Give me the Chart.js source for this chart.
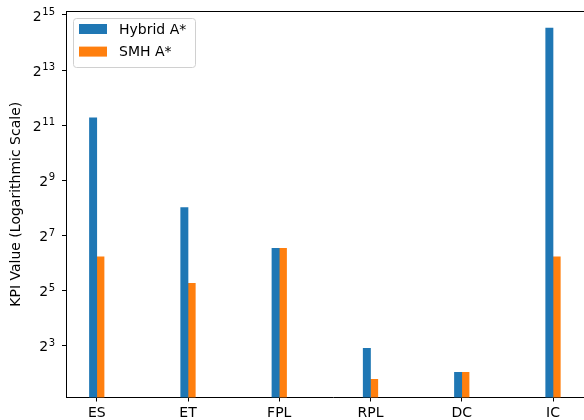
<!DOCTYPE html>
<html lang="en">
<head>
  <meta charset="UTF-8">
  <title>KPI comparison</title>
  <script src="https://cdn.jsdelivr.net/npm/chart.js"></script>
  <style>
    html, body { margin: 0; padding: 0; background: #fff; overflow: hidden; }
    /* la figure d'origine est coupée à droite : on déborde un peu */
    #wrap { width: 600px; height: 420px; position: relative; }
  </style>
</head>
<body>
  <div id="wrap"><canvas id="kpiChart"></canvas></div>

  <script>
    // Données
    const categories = ['ES', 'ET', 'FPL', 'RPL', 'DC', 'IC'];
    const seriesNames = ['Hybrid A*', 'SMH A*'];
    const hybridValues = [2470, 258, 92.6, 7.5, 4.1, 23650];
    const smhValues = [75, 38.4, 92.6, 3.44, 4.1, 75];
    const yTickExponents = [3, 5, 7, 9, 11, 13, 15];

    const font = 'DejaVu Sans';

    // Bord supérieur, étiquettes 2^n et légende style matplotlib
    const framePlugin = {
      id: 'frame',
      afterDraw(chart) {
        const { ctx, chartArea: a } = chart;
        const y = chart.scales.y;
        ctx.save();
        ctx.strokeStyle = '#000';
        ctx.lineWidth = 1;
        ctx.beginPath();
        ctx.moveTo(a.left, a.top + 0.5);
        ctx.lineTo(chart.width, a.top + 0.5);
        ctx.stroke();

        // Étiquettes de l'axe y : base 2 + exposant
        ctx.fillStyle = '#000';
        ctx.textBaseline = 'middle';
        ctx.textAlign = 'right';
        yTickExponents.forEach(e => {
          const py = y.getPixelForValue(Math.pow(2, e));
          const right = a.left - 11;
          ctx.font = '10px "' + font + '"';
          const expText = String(e);
          const ew = ctx.measureText(expText).width;
          ctx.fillText(expText, right, py - 2.5);
          ctx.font = '14px "' + font + '"';
          ctx.fillText('2', right - ew - 0.5, py + 2);
        });

        // Légende
        ctx.textAlign = 'left';
        const lx = a.left + 7, ly = a.top + 7, lw = 122, lh = 49;
        ctx.fillStyle = 'rgba(255,255,255,0.8)';
        ctx.strokeStyle = '#d0d0d0';
        ctx.beginPath();
        ctx.roundRect(lx + 0.5, ly + 0.5, lw, lh, 3);
        ctx.fill();
        ctx.stroke();
        const colors = chart.data.datasets.map(d => d.backgroundColor);
        ctx.font = '14px "' + font + '"';
        seriesNames.forEach((name, i) => {
          const cy = ly + 11 + i * 22.6;
          ctx.fillStyle = colors[i];
          ctx.fillRect(lx + 6, cy - 5, 28, 10);
          ctx.fillStyle = '#000';
          ctx.fillText(name, lx + 46, cy + 1);
        });
        ctx.restore();
      }
    };

    const ctx = document.getElementById('kpiChart').getContext('2d');
    const chart = new Chart(ctx, {
      type: 'bar',
      data: {
        datasets: [
          {
            label: seriesNames[0],
            data: hybridValues.map((v, i) => ({ x: i, y: v })),
            backgroundColor: '#1f77b4'
          },
          {
            label: seriesNames[1],
            data: smhValues.map((v, i) => ({ x: i, y: v })),
            backgroundColor: '#ff7f0e'
          }
        ]
      },
      options: {
        responsive: true,
        maintainAspectRatio: false,
        animation: false,
        barThickness: 7.3,
        layout: { padding: { top: 11, right: 0, left: 0, bottom: 0 } },
        plugins: {
          legend: { display: false },
          tooltip: { enabled: false }
        },
        scales: {
          x: {
            type: 'linear',
            offset: false,
            min: -0.337,
            max: 5.515,
            grid: { display: true, offset: false, drawOnChartArea: false, tickLength: 4, color: '#000', tickColor: '#000' },
            border: { color: '#000' },
            afterBuildTicks(scale) {
              scale.ticks = categories.map((c, i) => ({ value: i }));
            },
            afterFit(scale) { scale.height = 22.5; },
            ticks: {
              padding: 3,
              color: '#000',
              maxRotation: 0,
              autoSkip: false,
              font: { family: font, size: 14 },
              callback: (v) => categories[v]
            }
          },
          y: {
            type: 'logarithmic',
            min: Math.pow(2, 1.12),
            max: Math.pow(2, 15.145),
            grid: { display: true, drawOnChartArea: false, tickLength: 4, color: '#000', tickColor: '#000' },
            border: { color: '#000' },
            afterBuildTicks(scale) {
              scale.ticks = yTickExponents.map(e => ({ value: Math.pow(2, e) }));
            },
            afterFit(scale) { scale.width = 66; },
            title: {
              display: true,
              text: 'KPI Value (Logarithmic Scale)',
              color: '#000',
              font: { family: font, size: 14 },
              padding: { top: 8, bottom: 0 }
            },
            ticks: { display: false }
          }
        }
      },
      plugins: [framePlugin]
    });
  </script>
</body>
</html>
